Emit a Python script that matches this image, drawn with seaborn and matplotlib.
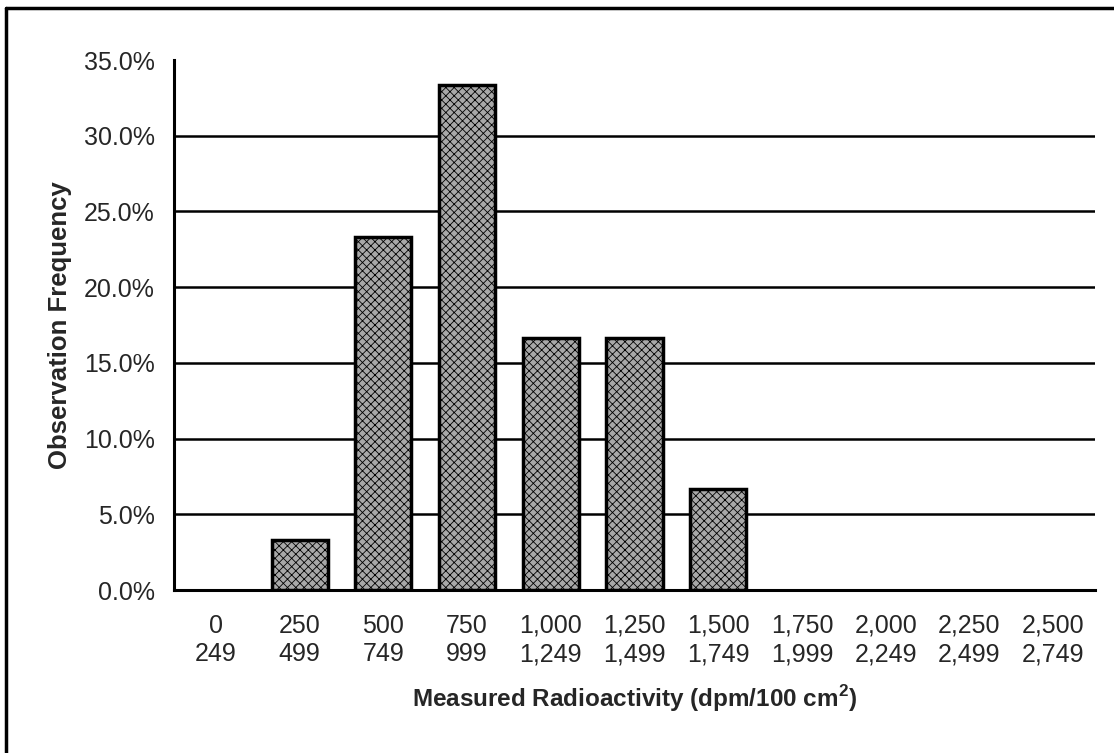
import seaborn as sns
import matplotlib.pyplot as plt
import pandas as pd
from matplotlib.lines import Line2D

# bins (lower / upper edge) and observed frequency
bin_low = ["0", "250", "500", "750", "1,000", "1,250", "1,500", "1,750", "2,000", "2,250", "2,500"]
bin_high = ["249", "499", "749", "999", "1,249", "1,499", "1,749", "1,999", "2,249", "2,499", "2,749"]
freq = [0.0, 3.33, 23.33, 33.33, 16.67, 16.67, 6.67, 0.0, 0.0, 0.0, 0.0]
y_ticks = [0, 5, 10, 15, 20, 25, 30, 35]

labels = [lo + "\n" + hi for lo, hi in zip(bin_low, bin_high)]
df = pd.DataFrame({"bin": labels, "freq": [f / 100 for f in freq]})

sns.set_theme(style="white")
plt.rcParams["font.family"] = ["Liberation Sans", "DejaVu Sans"]
plt.rcParams["mathtext.fontset"] = "custom"
plt.rcParams["mathtext.rm"] = "Liberation Sans"
plt.rcParams["mathtext.bf"] = "Liberation Sans:bold"
plt.rcParams["hatch.linewidth"] = 0.6

fig = plt.figure(figsize=(11.14, 7.53), dpi=100)
ax = fig.add_axes([174 / 1114, 1 - 590 / 753, (1095 - 174) / 1114, (590 - 60) / 753])

sns.barplot(data=df, x="bin", y="freq", order=labels, color="#a8a8a8", saturation=1,
            width=0.67, edgecolor="black", linewidth=2.5, hatch="xxxx", ax=ax, zorder=3)
# empty bins show nothing
for p in ax.patches:
    if p.get_height() == 0:
        p.set_visible(False)

ax.set_xlim(-0.5, 10.5)
ax.set_ylim(0, 0.35)
ax.set_yticks([t / 100 for t in y_ticks])
ax.set_yticklabels([f"{t:.1f}%" for t in y_ticks], fontsize=18)
for t in y_ticks[1:-1]:
    ax.axhline(t / 100, color="black", lw=1.8, zorder=1)

ax.set_xticks(range(len(labels)))
ax.set_xticklabels(labels, fontsize=18, linespacing=1.25)
ax.set_xticks([i - 0.5 for i in range(len(labels) + 1)], minor=True)
ax.tick_params(axis="x", which="major", length=0, pad=17)
ax.tick_params(axis="x", which="minor", length=9, width=2, direction="out", color="black")
ax.tick_params(axis="y", length=16, width=2, direction="inout", color="black", pad=6)

for s in ["top", "right"]:
    ax.spines[s].set_visible(False)
for s in ["left", "bottom"]:
    ax.spines[s].set_color("black")
    ax.spines[s].set_linewidth(2.2)

ax.set_xlabel(r"Measured Radioactivity (dpm/100 cm$^{\mathbf{2}}$)", fontsize=17.5,
              fontweight="bold", labelpad=12)
ax.set_ylabel("Observation Frequency", fontsize=18.5, fontweight="bold", labelpad=8)

# outer frame (top and left edges visible)
fig.add_artist(Line2D([6 / 1114, 1.01], [1 - 8 / 753] * 2, transform=fig.transFigure, color="black", lw=2.5))
fig.add_artist(Line2D([6 / 1114] * 2, [1 - 8 / 753, -0.01], transform=fig.transFigure, color="black", lw=2.5))

fig.savefig("out.png", dpi=100)
